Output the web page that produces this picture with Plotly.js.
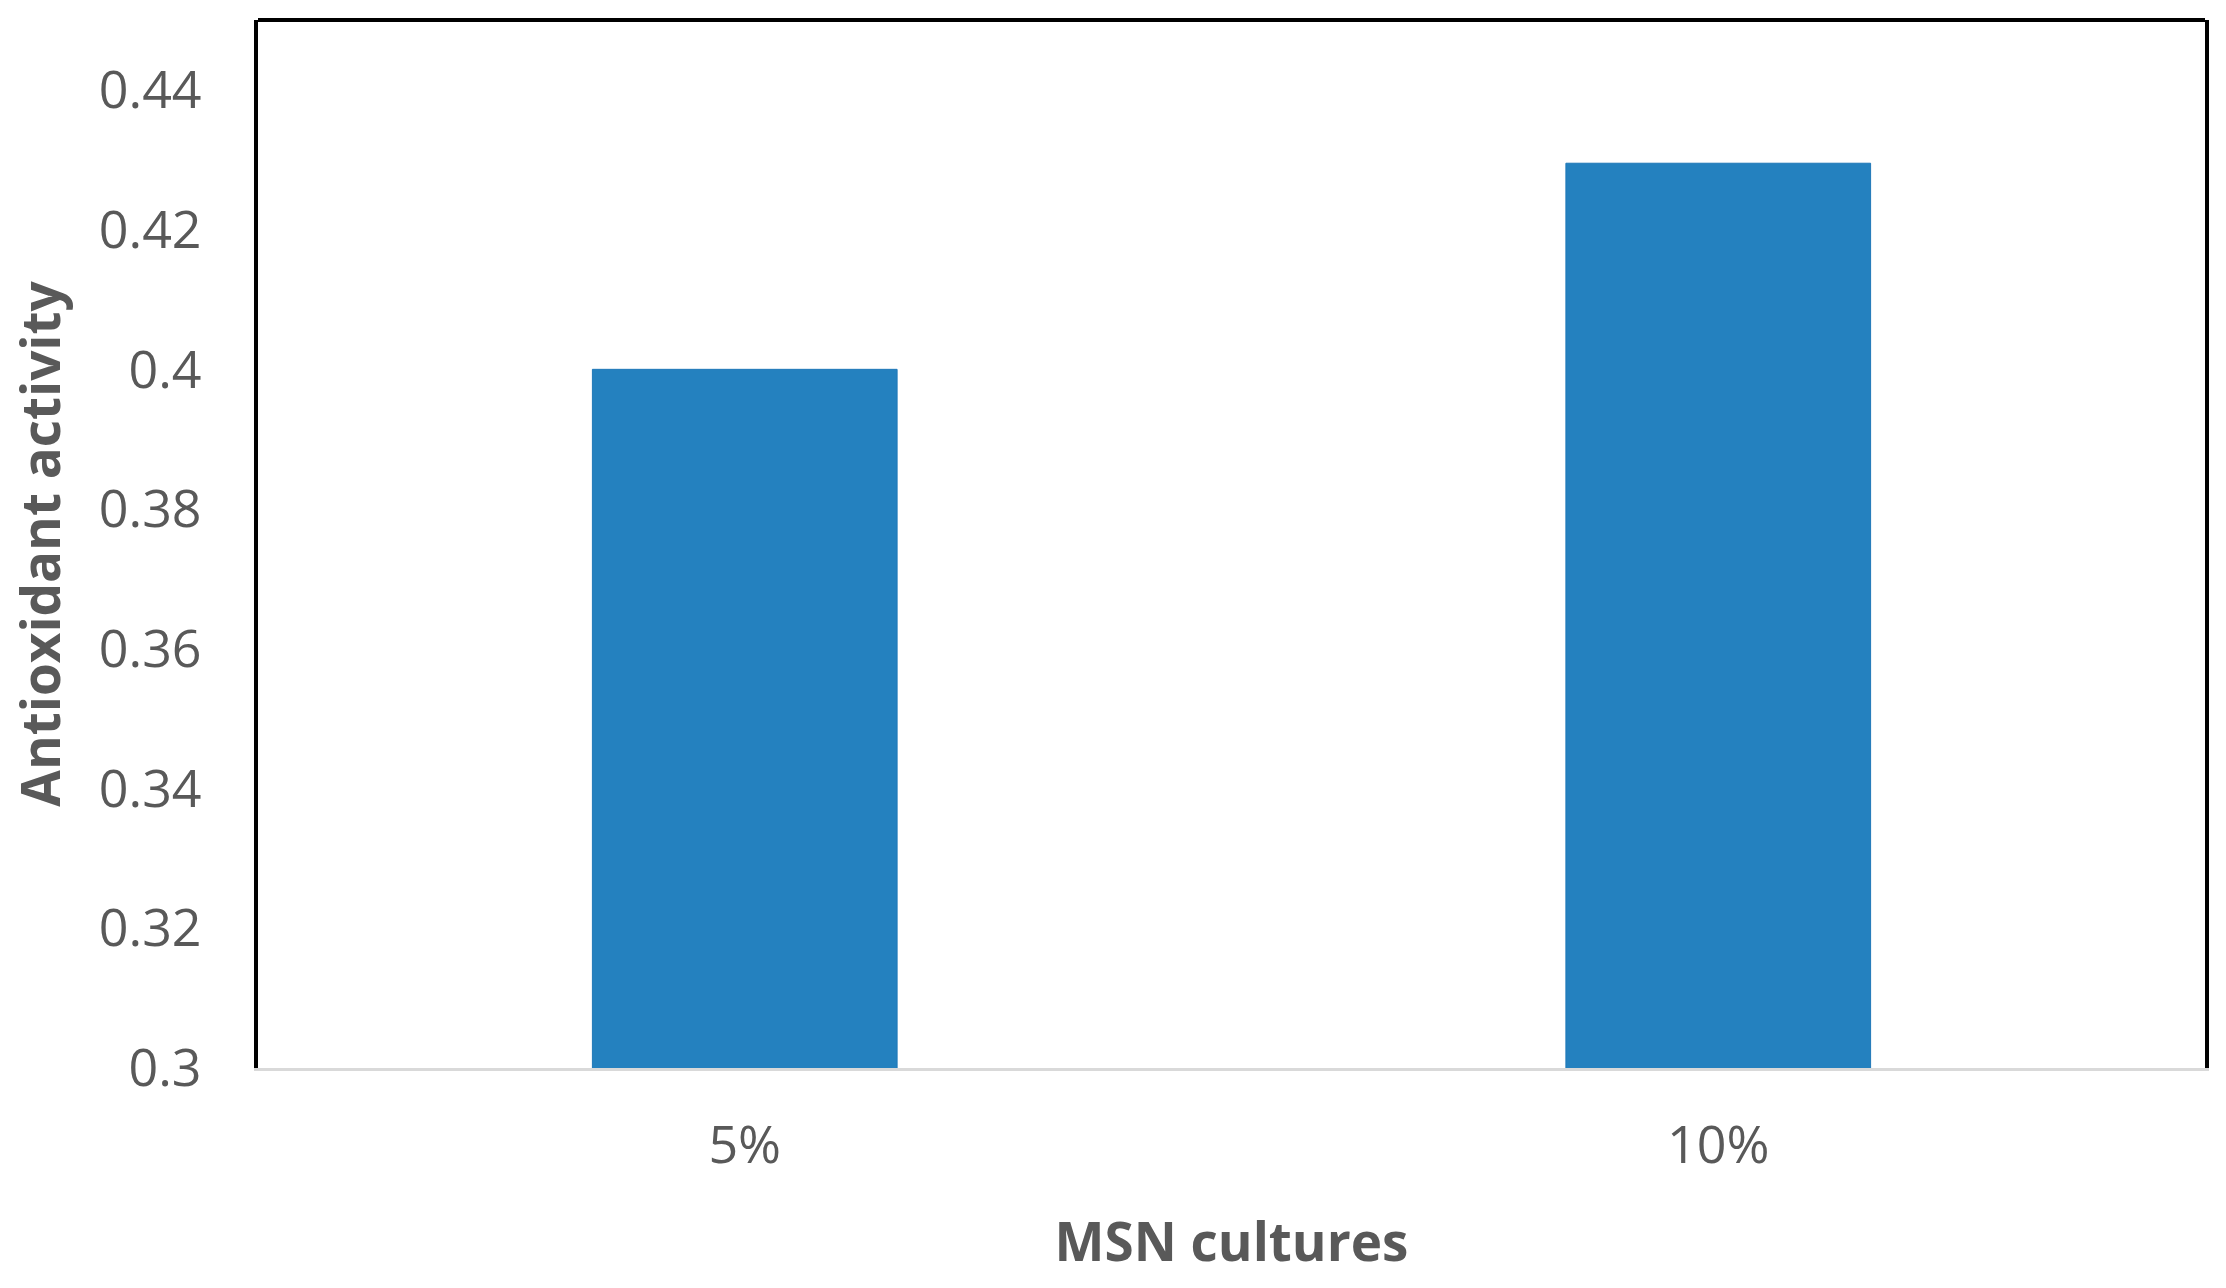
<!DOCTYPE html>
<html>
<head>
<meta charset="utf-8">
<script src="https://cdn.plot.ly/plotly-3.0.1.min.js"></script>
<style>
    html, body { margin: 0; padding: 0; background: #ffffff; }
    #plot { width: 2226px; height: 1288px; }
</style>
</head>
<body>
<div id="plot"></div>
<script>
// data
const categories = ["5%", "10%"];
const activity = [0.40, 0.4295];
const y_tick_vals = [0.30, 0.32, 0.34, 0.36, 0.38, 0.40, 0.42, 0.44];
const y_tick_text = ["0.3", "0.32", "0.34", "0.36", "0.38", "0.4", "0.42", "0.44"];

const text_grey = "#595959";
const font_family = "'Open Sans', 'Noto Sans', sans-serif";

let data = [{
    type: "bar",
    x: categories,
    y: activity,
    base: 0,
    marker: {
        color: "#2481bf",
        line: {color: "#1f78b8", width: 1},
    },
    hoverinfo: "x+y",
}];

let layout = {
    width: 2226,
    height: 1288,
    paper_bgcolor: "#ffffff",
    plot_bgcolor: "#ffffff",
    showlegend: false,
    margin: {l: 258, r: 21, t: 20, b: 220, autoexpand: false},
    bargap: 0.687,
    font: {family: font_family, color: text_grey, size: 52},
    xaxis: {
        type: "category",
        automargin: true,
        showline: true,
        linecolor: "#d9d9d9",
        linewidth: 3,
        showgrid: false,
        zeroline: false,
        ticks: "",
        ticklabelstandoff: 30,
        tickfont: {size: 52, color: text_grey},
        title: {
            text: "<b>MSN cultures</b>",
            font: {size: 53, color: text_grey},
            standoff: 47,
        },
    },
    yaxis: {
        range: [0.3, 0.45],
        automargin: true,
        tickvals: y_tick_vals,
        ticktext: y_tick_text,
        showline: true,
        mirror: true,
        linecolor: "#000000",
        linewidth: 4,
        showgrid: false,
        zeroline: false,
        ticks: "",
        ticklabelstandoff: 42,
        tickfont: {size: 52, color: text_grey},
        title: {
            text: "<b>Antioxidant activity</b>",
            font: {size: 53, color: text_grey},
            standoff: 22,
        },
    },
    shapes: [{
        // top edge of the frame
        type: "line",
        xref: "paper", yref: "paper",
        x0: 0, x1: 1, y0: 1, y1: 1,
        line: {color: "#000000", width: 4},
    }],
};

let config = {staticPlot: true};

window.addEventListener("DOMContentLoaded", () => {
    Plotly.newPlot("plot", data, layout, config);
});
</script>
</body>
</html>
